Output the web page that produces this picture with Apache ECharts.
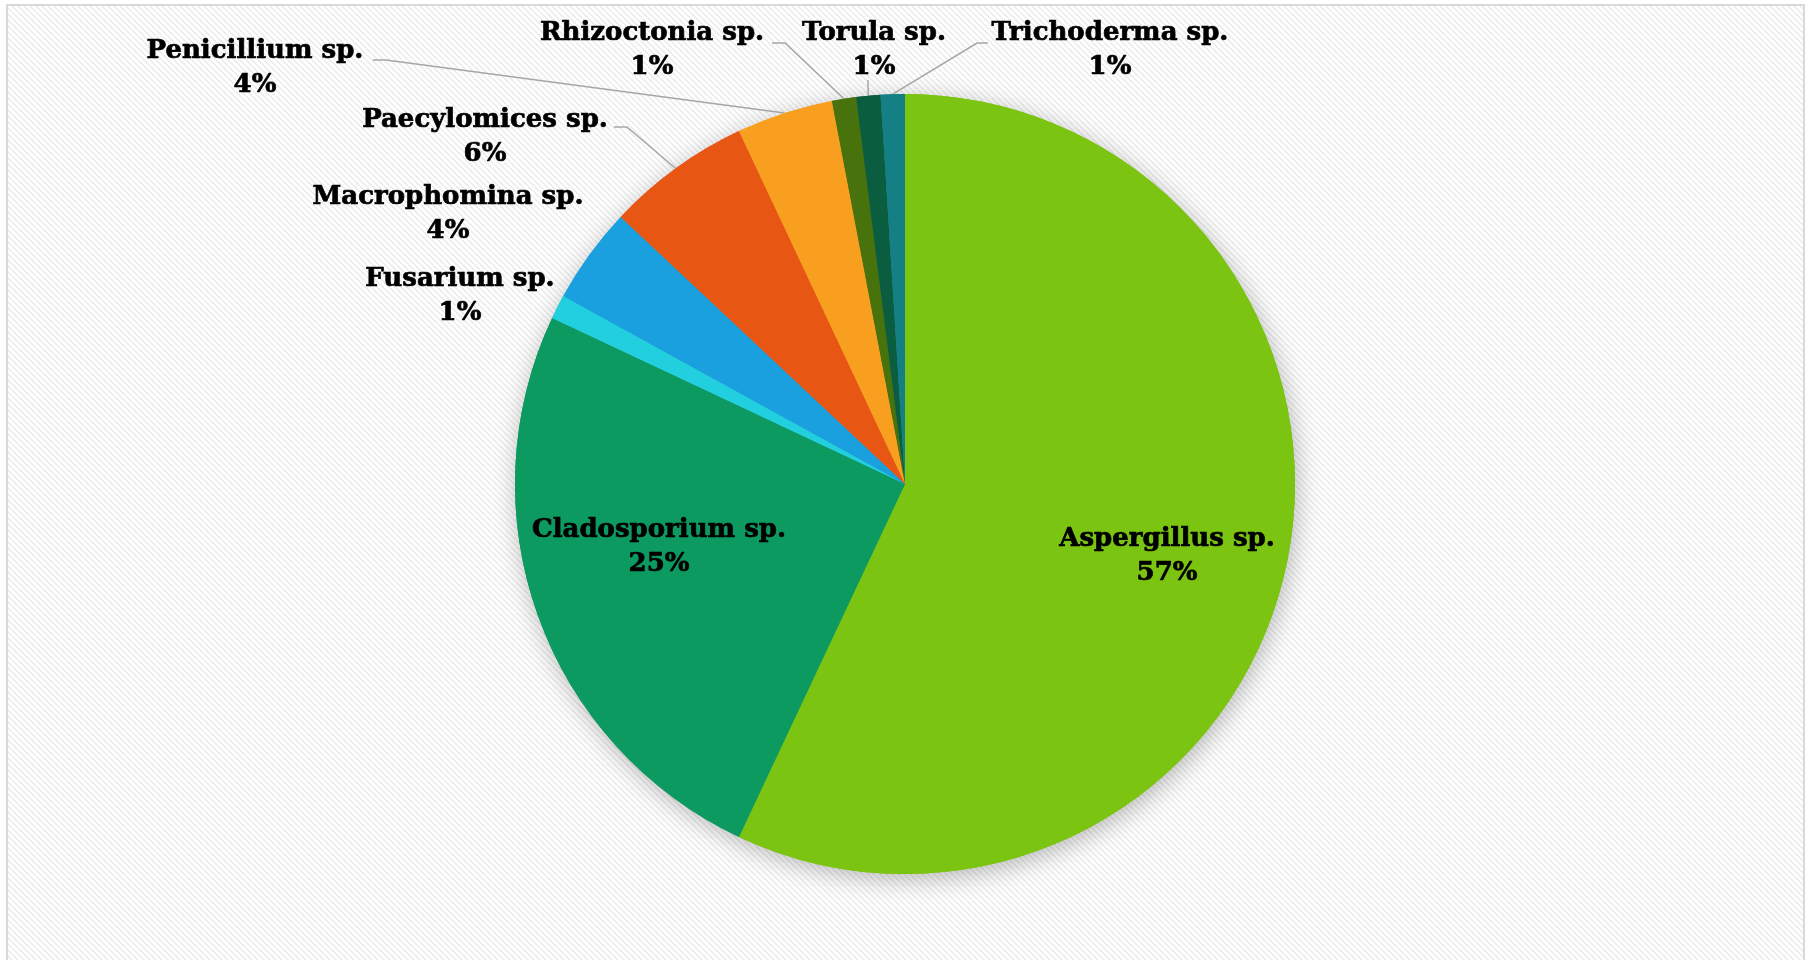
<!DOCTYPE html>
<html>
<head>
<meta charset="utf-8">
<title>Fungal genera</title>
<script src="https://cdn.jsdelivr.net/npm/echarts@6/dist/echarts.min.js"></script>
<style>
  html, body { margin: 0; padding: 0; background: #ffffff; }
  #chart { width: 1812px; height: 960px; }
</style>
</head>
<body>
<div id="chart"></div>
<script>
// Isolated fungal genera and their share of all isolates (%)
const species = [
  'Aspergillus sp.', 'Cladosporium sp.', 'Fusarium sp.', 'Macrophomina sp.',
  'Paecylomices sp.', 'Penicillium sp.', 'Rhizoctonia sp.', 'Torula sp.', 'Trichoderma sp.'
];
const shares = [57, 25, 1, 4, 6, 4, 1, 1, 1];

// Slice colours, in the same order as the species
const palette = [
  '#7bc412', '#0d9a61', '#22cfde', '#1a9fdf',
  '#e75713', '#f99f1f', '#48720c', '#0a5d3e', '#157f86'
];

// Where each label block is centred, and whether it gets a leader line
const labelSpots = {
  'Aspergillus sp.':  { x: 1167, y: 556, line: 'none' },
  'Cladosporium sp.': { x: 659,  y: 547, line: 'none' },
  'Fusarium sp.':     { x: 460,  y: 296, line: 'none' },
  'Macrophomina sp.': { x: 448,  y: 214, line: 'none' },
  'Paecylomices sp.': { x: 485,  y: 137, line: 'right', tx: 614, ty: 127 },
  'Penicillium sp.':  { x: 255,  y: 68,  line: 'right', tx: 373, ty: 60 },
  'Rhizoctonia sp.':  { x: 652,  y: 50,  line: 'right', tx: 772, ty: 43 },
  'Torula sp.':       { x: 874,  y: 50,  line: 'down',  tx: 868, ty: 80 },
  'Trichoderma sp.':  { x: 1110, y: 50,  line: 'left',  tx: 988, ty: 43 }
};

const CENTER = [905, 484];
const RADIUS = 390;

function stripePattern() {
  const c = document.createElement('canvas');
  c.width = 6; c.height = 6;
  const g = c.getContext('2d');
  g.fillStyle = '#ffffff';
  g.fillRect(0, 0, 6, 6);
  g.strokeStyle = '#ececec';
  g.lineWidth = 1.6;
  for (let k = -6; k <= 12; k += 6) {
    g.beginPath();
    g.moveTo(k, 0);
    g.lineTo(k + 6, 6);
    g.stroke();
  }
  return c;
}

const pieData = species.map((name, i) => ({
  name: name,
  value: shares[i],
  itemStyle: { color: palette[i] },
  labelLine: { show: labelSpots[name].line !== 'none' }
}));

const chart = echarts.init(document.getElementById('chart'), null, { renderer: 'canvas' });

chart.setOption({
  animation: false,
  backgroundColor: '#ffffff',
  graphic: [{
    type: 'rect',
    silent: true,
    z: -10,
    shape: { x: 7, y: 5, width: 1797, height: 990 },
    style: {
      fill: { image: stripePattern(), repeat: 'repeat' },
      stroke: '#d9d9d9',
      lineWidth: 2
    }
  }],
  series: [
    {
      // soft drop shadow beneath the pie
      type: 'pie',
      silent: true,
      z: 1,
      center: CENTER,
      radius: RADIUS,
      startAngle: 90,
      clockwise: true,
      label: { show: false },
      labelLine: { show: false },
      itemStyle: {
        shadowBlur: 24,
        shadowColor: 'rgba(0,0,0,0.28)',
        shadowOffsetX: 2,
        shadowOffsetY: 5
      },
      data: species.map((name, i) => ({ name: name, value: shares[i], itemStyle: { color: palette[i] } }))
    },
    {
      type: 'pie',
      z: 2,
      center: CENTER,
      radius: RADIUS,
      startAngle: 90,
      clockwise: true,
      avoidLabelOverlap: false,
      itemStyle: { borderWidth: 0 },
      label: {
        show: true,
        position: 'outside',
        formatter: p => p.name + '\n' + Math.round(p.percent) + '%',
        fontFamily: '"DejaVu Serif", serif',
        fontWeight: 'bold',
        fontSize: 26,
        lineHeight: 34,
        color: '#000000',
        textBorderColor: '#000000',
        textBorderWidth: 0.7,
        align: 'center'
      },
      labelLine: {
        show: true,
        lineStyle: { color: '#a6a6a6', width: 1.5 }
      },
      labelLayout: function (params) {
        const name = species[params.dataIndex];
        const spot = labelSpots[name];
        const out = { x: spot.x, y: spot.y, align: 'center', verticalAlign: 'middle' };
        const pts = params.labelLinePoints;
        if (spot.line !== 'none' && pts && pts.length) {
          const start = pts[0];
          let elbow;
          if (spot.line === 'right') elbow = [spot.tx + 13, spot.ty];
          else if (spot.line === 'left') elbow = [spot.tx - 11, spot.ty];
          else elbow = [spot.tx, spot.ty + 4];
          out.labelLinePoints = [start, elbow, [spot.tx, spot.ty]];
        }
        return out;
      },
      data: pieData
    }
  ]
});
</script>
</body>
</html>
